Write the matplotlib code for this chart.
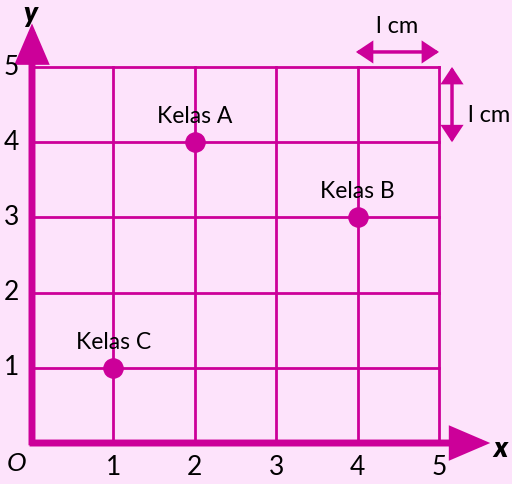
import matplotlib.pyplot as plt
from matplotlib.patches import FancyArrowPatch

# data
kelas = ['Kelas A', 'Kelas B', 'Kelas C']
xs = [2, 4, 1]
ys = [4, 3, 1]
ticks = [1, 2, 3, 4, 5]

bg = '#fde3fb'
mag = '#cc0099'
font = 'Lato'

fig = plt.figure(figsize=(5.12, 4.84), dpi=100, facecolor=bg)
ax = fig.add_axes([0, 0, 1, 1])
ax.set_facecolor(bg)
ax.set_xlim(-0.393, 5.897)
ax.set_ylim(-0.545, 5.891)
ax.axis('off')

# grid
for t in ticks:
    ax.plot([t, t], [0, 5], color=mag, lw=2, zorder=1)
    ax.plot([0, 5], [t, t], color=mag, lw=2, zorder=1)

# axes with arrows
head = '-|>,head_length=2.1,head_width=0.9'
ax.annotate('', xy=(5.63, 0), xytext=(-0.03, 0),
            arrowprops=dict(arrowstyle=head, color=mag, lw=5, shrinkA=0, shrinkB=0,
                            joinstyle='miter', capstyle='butt'), zorder=3)
ax.annotate('', xy=(0, 5.58), xytext=(0, -0.03),
            arrowprops=dict(arrowstyle=head, color=mag, lw=5, shrinkA=0, shrinkB=0,
                            joinstyle='miter', capstyle='butt'), zorder=3)

# tick labels
for t in ticks:
    ax.text(t, -0.33, str(t), ha='center', va='center', fontsize=19, family=font)
    ax.text(-0.25, t, str(t), ha='center', va='center', fontsize=19, family=font)
ax.text(-0.19, -0.27, 'O', ha='center', va='center', fontsize=19, style='italic', family=font)
ax.text(5.75, -0.08, 'x', ha='center', va='center', fontsize=20, style='italic', weight='heavy', family=font)
ax.text(-0.02, 5.7, 'y', ha='center', va='center', fontsize=20, style='italic', weight='heavy', family=font)

# points
ax.scatter(xs, ys, s=190, color=mag, zorder=4)
for name, x, y in zip(kelas, xs, ys):
    ax.text(x, y + 0.34, name, ha='center', va='center', fontsize=16.5, family=font)

# 1 cm markers
small = '<|-|>,head_length=4.5,head_width=3'
ax.add_patch(FancyArrowPatch((3.98, 5.2), (5.0, 5.2), arrowstyle=small, color=mag, lw=2.5,
                             shrinkA=0, shrinkB=0, mutation_scale=2, joinstyle='miter'))
ax.text(4.49, 5.54, 'l cm', ha='center', va='center', fontsize=17, family=font)
ax.add_patch(FancyArrowPatch((5.16, 5.0), (5.16, 4.0), arrowstyle=small, color=mag, lw=2.5,
                             shrinkA=0, shrinkB=0, mutation_scale=2, joinstyle='miter'))
ax.text(5.61, 4.36, 'l cm', ha='center', va='center', fontsize=17, family=font)

fig.savefig('out.png', dpi=100, facecolor=bg)
